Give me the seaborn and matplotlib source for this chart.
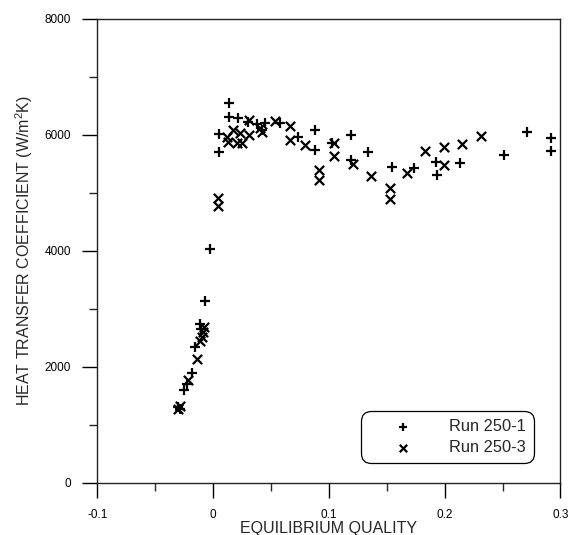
import matplotlib
matplotlib.use("Agg")
import matplotlib.pyplot as plt
import seaborn as sns
import pandas as pd
from matplotlib.ticker import MultipleLocator, FixedLocator, FixedFormatter

# ---- data ----
run1_x = [-0.030, -0.0285, -0.0249, -0.0225, -0.0185, -0.0156, -0.0113, -0.0105,
          -0.007, -0.0027, 0.0054, 0.0054, 0.0132, 0.0132, 0.0218, 0.030, 0.0377,
          0.042, 0.045, 0.058, 0.0733, 0.088, 0.088, 0.1026, 0.119, 0.119, 0.134,
          0.1545, 0.1738, 0.1928, 0.1934, 0.213, 0.2516, 0.2713, 0.2914, 0.2914]
run1_y = [1300, 1270, 1600, 1700, 1900, 2340, 2740, 2650,
          3140, 4030, 6020, 5710, 6546, 6310, 6287, 6230, 6190,
          6080, 6200, 6200, 5970, 6085, 5735, 5855, 6005, 5570, 5711,
          5452, 5424, 5539, 5309, 5521, 5654, 6045, 5942, 5723]

run3_x = [-0.030, -0.029, -0.0214, -0.0142, -0.0113, -0.0095, -0.0085, -0.0076,
          0.0045, 0.0045, 0.012, 0.013, 0.0175, 0.0204, 0.0232, 0.0247, 0.0305,
          0.0305, 0.0406, 0.042, 0.0536, 0.0665, 0.0665, 0.0795, 0.0918, 0.0918,
          0.1045, 0.1045, 0.1205, 0.1363, 0.1524, 0.1524, 0.1674, 0.1833, 0.1997,
          0.1997, 0.2151, 0.2315]
run3_y = [1270, 1330, 1772, 2130, 2450, 2520, 2605, 2690,
          4907, 4780, 5970, 5884, 6085, 5855, 6028, 5855, 6258,
          5999, 6115, 6056, 6240, 6150, 5920, 5826, 5395, 5215,
          5860, 5630, 5500, 5285, 5079, 4895, 5338, 5728, 5797,
          5481, 5838, 5982]

series_names = ["Run 250-1", "Run 250-3"]
x_ticks = [-0.1, 0.0, 0.1, 0.2, 0.3]
x_tick_labels = ["-0.1", "0", "0.1", "0.2", "0.3"]
y_ticks = [0, 2000, 4000, 6000, 8000]
y_tick_labels = ["0", "2000", "4000", "6000", "8000"]

df1 = pd.DataFrame({"x": run1_x, "y": run1_y, "run": series_names[0]})
df3 = pd.DataFrame({"x": run3_x, "y": run3_y, "run": series_names[1]})

sns.set_style("ticks")
plt.rcParams["font.family"] = ["Liberation Sans", "DejaVu Sans"]

fig = plt.figure(figsize=(5.71, 5.35), dpi=100)
ax = fig.add_axes([0.1707, 0.0978, 0.9816 - 0.1707, 0.9645 - 0.0978])

sns.scatterplot(data=df1, x="x", y="y", marker="+", s=60, color="black",
                linewidth=1.6, ax=ax, label=series_names[0])
sns.scatterplot(data=df3, x="x", y="y", marker="x", s=45, color="black",
                linewidth=1.6, ax=ax, label=series_names[1])

ax.set_xlim(-0.1, 0.3)
ax.set_ylim(0, 8000)
ax.xaxis.set_major_locator(FixedLocator(x_ticks))
ax.xaxis.set_major_formatter(FixedFormatter(x_tick_labels))
ax.xaxis.set_minor_locator(MultipleLocator(0.05))
ax.yaxis.set_major_locator(FixedLocator(y_ticks))
ax.yaxis.set_major_formatter(FixedFormatter(y_tick_labels))
ax.yaxis.set_minor_locator(MultipleLocator(1000))

ax.tick_params(which="major", direction="out", length=11, width=1.0,
               labelsize=8.5, pad=8, colors="black")
ax.tick_params(which="minor", direction="out", length=5.5, width=1.0)
for sp in ax.spines.values():
    sp.set_visible(True)
    sp.set_linewidth(1.0)
    sp.set_color("#222222")

ax.set_xlabel("EQUILIBRIUM QUALITY", fontsize=11.5, labelpad=0)
ax.set_ylabel("HEAT TRANSFER COEFFICIENT (W/m$\\mathregular{^2}$K)", fontsize=11.5, labelpad=7)

leg = ax.legend(loc="lower right", bbox_to_anchor=(0.9434, 0.0418),
                fontsize=11.8, frameon=True, fancybox=True, framealpha=1,
                edgecolor="black", borderpad=0.5, handlelength=4.1,
                handletextpad=0.8, labelspacing=0.35, borderaxespad=0,
                markerscale=0.8)
frame = leg.get_frame()
frame.set_linewidth(0.9)
frame.set_boxstyle("round", pad=0, rounding_size=0.6)

fig.savefig("out.png", dpi=100)
